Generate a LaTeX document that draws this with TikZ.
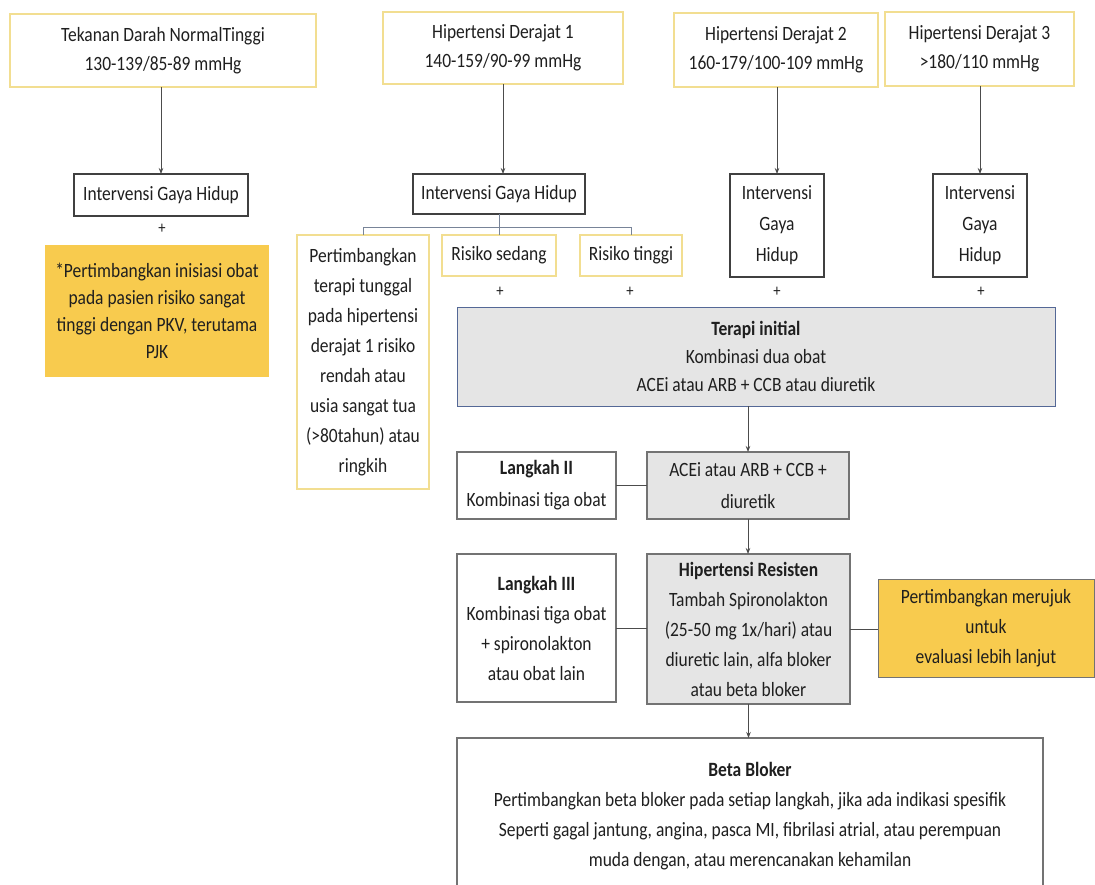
\documentclass[tikz,border=0pt]{standalone}
\usepackage{fontspec}
\setmainfont{Carlito}[FakeStretch=0.86]
\usetikzlibrary{arrows.meta,calc}
\definecolor{paleyel}{RGB}{242,222,145}
\definecolor{gold}{RGB}{248,203,78}
\definecolor{boxgray}{RGB}{229,229,229}
\definecolor{slate}{RGB}{84,104,150}
\definecolor{branch}{RGB}{120,132,152}
\begin{document}
\begin{tikzpicture}[x=1pt,y=-1pt,
  every node/.style={inner sep=0pt,outer sep=0pt,align=center,text=black!88},
  fs/.style={font=\fontsize{20.3}{#1}\selectfont},
  fs/.default=28,
  ybox/.style={draw=paleyel,line width=1.2pt,fill=white},
  kbox/.style={draw=black!75,line width=1.1pt,fill=white},
  gbox/.style={draw=black!55,line width=1.1pt,fill=boxgray},
  wbox/.style={draw=black!55,line width=1.1pt,fill=white},
  obox/.style={fill=gold},
  conn/.style={draw=black!70,line width=0.8pt},
  arr/.style={conn,-{Stealth[length=6pt,width=4.5pt]}},
  brl/.style={draw=branch,line width=1pt},
  plus/.style={font=\fontsize{17}{17}\selectfont}]
\useasboundingbox (0,0) rectangle (1095,884);
\clip (0,0) rectangle (1095,884);
\fill[white] (0,0) rectangle (1095,884);

% top row
\node[ybox,fs=29,minimum width=306pt,minimum height=73pt] (A) at (163,50.5) {Tekanan Darah NormalTinggi\\130-139/85-89 mmHg};
\node[ybox,fs=29,minimum width=240pt,minimum height=72pt] (B) at (503,48) {Hipertensi Derajat 1\\140-159/90-99 mmHg};
\node[ybox,fs=29,minimum width=204pt,minimum height=74pt] (C) at (776,50) {Hipertensi Derajat 2\\160-179/100-109 mmHg};
\node[ybox,fs=29,minimum width=189pt,minimum height=74pt] (D) at (979.5,49) {Hipertensi Derajat 3\\>180/110 mmHg};

% lifestyle boxes
\node[kbox,fs,minimum width=174pt,minimum height=42pt] (IA) at (161,195) {Intervensi Gaya Hidup};
\node[kbox,fs,minimum width=172pt,minimum height=40pt] (IB) at (499,194) {Intervensi Gaya Hidup};
\node[kbox,fs=31,minimum width=94pt,minimum height=103pt] (IC) at (777,225.5) {Intervensi\\Gaya\\Hidup};
\node[kbox,fs=31,minimum width=94pt,minimum height=103pt] (ID) at (980,225.5) {Intervensi\\Gaya\\Hidup};

\draw[arr] (IA.north |- A.south) -- (IA.north);
\draw[arr] (B.south) -- (B.south |- IB.north);
\draw[arr] (IC.north |- C.south) -- (IC.north);
\draw[arr] (ID.north |- D.south) -- (ID.north);

% plus signs
\node[plus] (p1) at (162,229) {+};
\node[plus] (p2) at (500,292) {+};
\node[plus] (p3) at (630,292) {+};
\node[plus] (p4) at (777,292) {+};
\node[plus] (p5) at (981,292) {+};

% orange note left
\node[obox,fs=27,minimum width=224pt,minimum height=132pt] (OA) at (157,311) {*Pertimbangkan inisiasi obat\\pada pasien risiko sangat\\tinggi dengan PKV, terutama\\PJK};

% risk boxes
\node[ybox,fs=30,minimum width=132pt,minimum height=254pt] (P) at (363,362) {Pertimbangkan\\terapi tunggal\\pada hipertensi\\derajat 1 risiko\\rendah atau\\usia sangat tua\\(>80tahun) atau\\ringkih};
\node[ybox,fs,minimum width=114pt,minimum height=41pt] (RS) at (499,255.5) {Risiko sedang};
\node[ybox,fs,minimum width=102pt,minimum height=41pt] (RT) at (631,255.5) {Risiko tinggi};

\coordinate (bl) at (363,227);
\coordinate (br) at (631,227);
\draw[brl] (IB.south) -- (RS.north);
\draw[brl] (P.north) -- (bl) -- (br) -- (RT.north);

% therapy
\node[draw=slate,line width=1pt,fill=boxgray,fs=28,minimum width=598pt,minimum height=99pt] (T) at (756,356.5) {\textbf{Terapi initial}\\Kombinasi dua obat\\ACEi atau ARB + CCB atau diuretik};
\node[gbox,fs=32,minimum width=202pt,minimum height=67pt] (AC) at (748,485.5) {ACEi atau ARB + CCB +\\diuretik};
\node[wbox,fs=32,minimum width=159pt,minimum height=67pt] (L2) at (536.5,485.5) {\textbf{Langkah II}\\Kombinasi tiga obat};
\node[wbox,fs=30,minimum width=159pt,minimum height=148pt] (L3) at (536.5,628) {\textbf{Langkah III}\\Kombinasi tiga obat\\+ spironolakton\\atau obat lain};
\node[gbox,fs=30,minimum width=203pt,minimum height=150pt] (HR) at (748.5,629) {\textbf{Hipertensi Resisten}\\Tambah Spironolakton\\(25-50 mg 1x/hari) atau\\diuretic lain, alfa bloker\\atau beta bloker};
\node[obox,draw=black!55,line width=1pt,fs=30,minimum width=216pt,minimum height=98pt] (OR) at (986,628) {Pertimbangkan merujuk\\untuk\\evaluasi lebih lanjut};
\node[wbox,fs=30,minimum width=586pt,minimum height=156pt] (BB) at (750,816) {\textbf{Beta Bloker}\\Pertimbangkan beta bloker pada setiap langkah, jika ada indikasi spesifik\\Seperti gagal jantung, angina, pasca MI, fibrilasi atrial, atau perempuan\\muda dengan, atau merencanakan kehamilan};

\draw[arr] (T.south -| AC.north) -- (AC.north);
\draw[conn] (L2.east) -- (AC.west);
\draw[arr] (AC.south) -- (AC.south |- HR.north);
\draw[conn] (L3.east) -- (L3.east -| HR.west);
\draw[conn] (HR.east) -- (HR.east -| OR.west);
\draw[arr] (HR.south) -- (HR.south |- BB.north);
\end{tikzpicture}
\end{document}
